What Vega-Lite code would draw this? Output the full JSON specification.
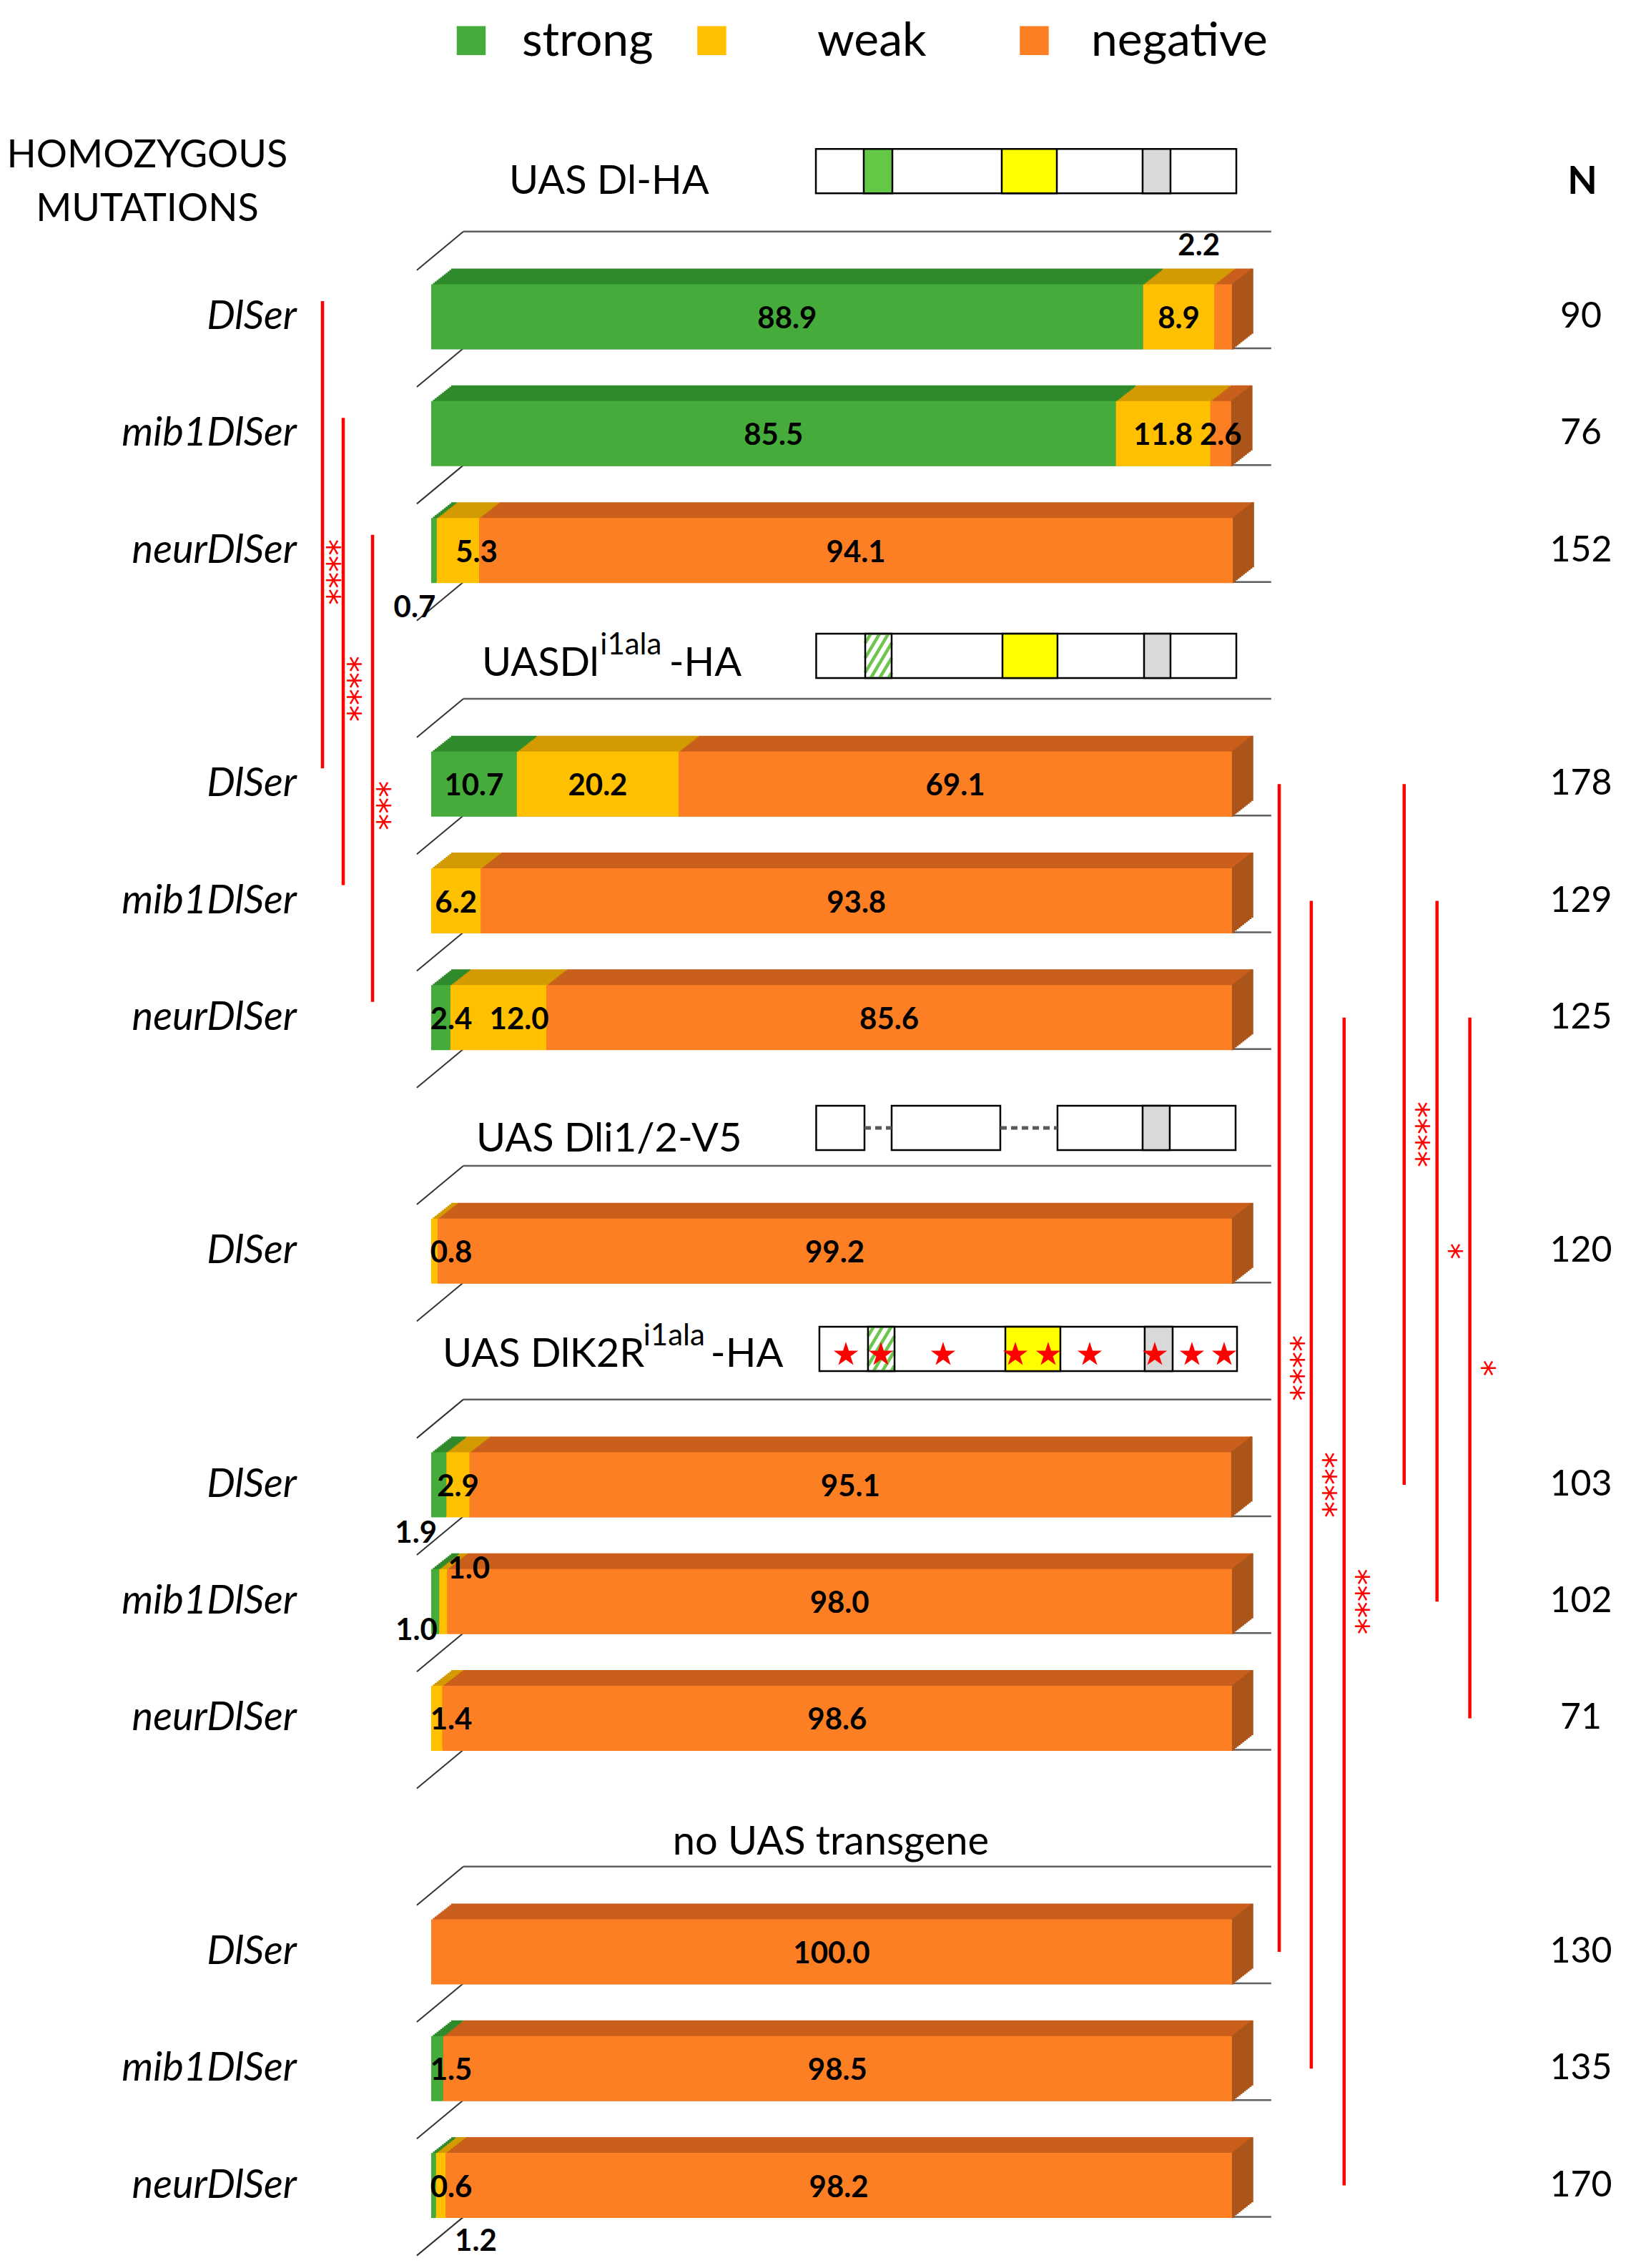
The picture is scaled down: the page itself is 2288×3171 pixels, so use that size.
{
"$schema":"https://vega.github.io/schema/vega-lite/v6.json",
"width":2288,"height":3171,"autosize":{"type":"none"},"padding":0,"background":"white",
"config":{"view":{"stroke":null},"font":"Lato"},
"datasets":{
"bars":[
{"slot":1,"cat":"strong","value":88.9},{"slot":1,"cat":"weak","value":8.9},{"slot":1,"cat":"negative","value":2.2},
{"slot":2,"cat":"strong","value":85.5},{"slot":2,"cat":"weak","value":11.8},{"slot":2,"cat":"negative","value":2.6},
{"slot":3,"cat":"strong","value":0.7},{"slot":3,"cat":"weak","value":5.3},{"slot":3,"cat":"negative","value":94.1},
{"slot":5,"cat":"strong","value":10.7},{"slot":5,"cat":"weak","value":20.2},{"slot":5,"cat":"negative","value":69.1},
{"slot":6,"cat":"strong","value":0},{"slot":6,"cat":"weak","value":6.2},{"slot":6,"cat":"negative","value":93.8},
{"slot":7,"cat":"strong","value":2.4},{"slot":7,"cat":"weak","value":12.0},{"slot":7,"cat":"negative","value":85.6},
{"slot":9,"cat":"strong","value":0},{"slot":9,"cat":"weak","value":0.8},{"slot":9,"cat":"negative","value":99.2},
{"slot":11,"cat":"strong","value":1.9},{"slot":11,"cat":"weak","value":2.9},{"slot":11,"cat":"negative","value":95.1},
{"slot":12,"cat":"strong","value":1.0},{"slot":12,"cat":"weak","value":1.0},{"slot":12,"cat":"negative","value":98.0},
{"slot":13,"cat":"strong","value":0},{"slot":13,"cat":"weak","value":1.4},{"slot":13,"cat":"negative","value":98.6},
{"slot":15,"cat":"strong","value":0},{"slot":15,"cat":"weak","value":0},{"slot":15,"cat":"negative","value":100.0},
{"slot":16,"cat":"strong","value":1.5},{"slot":16,"cat":"weak","value":0},{"slot":16,"cat":"negative","value":98.5},
{"slot":17,"cat":"strong","value":0.6},{"slot":17,"cat":"weak","value":1.2},{"slot":17,"cat":"negative","value":98.2}
],
"rows":[
{"slot":0,"label":"","N":null},{"slot":1,"label":"DlSer","N":90},{"slot":2,"label":"mib1DlSer","N":76},{"slot":3,"label":"neurDlSer","N":152},
{"slot":4,"label":"","N":null},{"slot":5,"label":"DlSer","N":178},{"slot":6,"label":"mib1DlSer","N":129},{"slot":7,"label":"neurDlSer","N":125},
{"slot":8,"label":"","N":null},{"slot":9,"label":"DlSer","N":120},{"slot":10,"label":"","N":null},
{"slot":11,"label":"DlSer","N":103},{"slot":12,"label":"mib1DlSer","N":102},{"slot":13,"label":"neurDlSer","N":71},
{"slot":14,"label":"","N":null},{"slot":15,"label":"DlSer","N":130},{"slot":16,"label":"mib1DlSer","N":135},{"slot":17,"label":"neurDlSer","N":170}
],
"sig":[
{"from":1,"to":5,"lane":-13.57,"stars":"****","side":"L"},
{"from":2,"to":6,"lane":-10.98,"stars":"****","side":"L"},
{"from":3,"to":7,"lane":-7.32,"stars":"***","side":"L"},
{"from":5,"to":15,"lane":105.9,"stars":"****","side":"R"},
{"from":6,"to":16,"lane":109.9,"stars":"****","side":"R"},
{"from":7,"to":17,"lane":114.0,"stars":"****","side":"R"},
{"from":5,"to":11,"lane":121.5,"stars":"****","side":"R"},
{"from":6,"to":12,"lane":125.6,"stars":"*","side":"R"},
{"from":7,"to":13,"lane":129.7,"stars":"*","side":"R"}
],
"dia":[
{"y":-0.2485,"a":48.04,"b":100.54,"kind":"box"},
{"y":-0.2485,"a":54.02,"b":57.59,"kind":"green"},
{"y":-0.2485,"a":71.25,"b":78.13,"kind":"yellow"},
{"y":-0.2485,"a":88.84,"b":92.32,"kind":"grey"},
{"y":3.903,"a":48.08,"b":100.54,"kind":"box"},
{"y":3.903,"a":54.2,"b":57.5,"kind":"hatch"},
{"y":3.903,"a":71.34,"b":78.21,"kind":"yellow"},
{"y":3.903,"a":89.02,"b":92.32,"kind":"grey"},
{"y":7.944,"a":48.08,"b":54.11,"kind":"box"},
{"y":7.944,"a":57.5,"b":71.07,"kind":"box"},
{"y":7.944,"a":78.21,"b":100.45,"kind":"box"},
{"y":7.944,"a":88.84,"b":92.23,"kind":"grey"},
{"y":7.944,"a":54.11,"b":57.5,"kind":"dash"},
{"y":7.944,"a":71.07,"b":78.21,"kind":"dash"},
{"y":9.837,"a":48.48,"b":100.63,"kind":"box"},
{"y":9.837,"a":54.55,"b":57.86,"kind":"hatch"},
{"y":9.837,"a":71.7,"b":78.57,"kind":"yellow"},
{"y":9.837,"a":89.1,"b":92.59,"kind":"grey"}
],
"hatch":[
{"xa":54.893,"ya":3.7137,"xb":54.2,"yb":3.7932},
{"xa":55.995,"ya":3.7137,"xb":54.2,"yb":3.9196},
{"xa":57.091,"ya":3.7137,"xb":54.2,"yb":4.0453},
{"xa":57.5,"ya":3.7932,"xb":54.893,"yb":4.0922},
{"xa":57.5,"ya":3.9196,"xb":55.995,"yb":4.0922},
{"xa":57.5,"ya":4.0453,"xb":57.091,"yb":4.0922},
{"xa":55.245,"ya":9.6477,"xb":54.55,"yb":9.7272},
{"xa":56.351,"ya":9.6477,"xb":54.55,"yb":9.8537},
{"xa":57.45,"ya":9.6477,"xb":54.55,"yb":9.9794},
{"xa":57.86,"ya":9.7272,"xb":55.245,"yb":10.0263},
{"xa":57.86,"ya":9.8537,"xb":56.351,"yb":10.0263},
{"xa":57.86,"ya":9.9794,"xb":57.45,"yb":10.0263}
],
"diastars":[{"p":51.79},{"p":56.16},{"p":63.93},{"p":72.95},{"p":77.05},{"p":82.23},{"p":90.36},{"p":95.0},{"p":99.02}]
},
"layer":[
{"data":{"name":"rows"},"mark":{"type":"rule","color":"#5f5f5f","strokeWidth":2.5,"yOffset":44},
 "encoding":{"x":{"datum":4.02,"type":"quantitative","scale":{"domain":[-53.84,150.45],"nice":false,"zero":false},"axis":null},"x2":{"datum":104.9},
 "y":{"field":"slot","type":"quantitative","scale":{"domain":[-1.683,17.676],"nice":false,"zero":false,"reverse":true},"axis":null}}},
{"data":{"name":"rows"},"mark":{"type":"rule","color":"#333333","strokeWidth":2,"yOffset":98,"y2Offset":44},
 "encoding":{"x":{"datum":-1.79,"type":"quantitative","scale":{"domain":[-53.84,150.45],"nice":false,"zero":false},"axis":null},"x2":{"datum":4.02},
 "y":{"field":"slot","type":"quantitative","scale":{"domain":[-1.683,17.676],"nice":false,"zero":false,"reverse":true},"axis":null},"y2":{"field":"slot"}}},
{"data":{"name":"sig"},
 "encoding":{"x":{"field":"lane","type":"quantitative","scale":{"domain":[-53.84,150.45],"nice":false,"zero":false},"axis":null},
  "y":{"field":"from","type":"quantitative","scale":{"domain":[-1.683,17.676],"nice":false,"zero":false,"reverse":true},"axis":null},"y2":{"field":"to"}},
 "layer":[
  {"transform":[{"filter":"datum.side=='L'"}],"mark":{"type":"rule","color":"#FF0000","strokeWidth":4.5,"yOffset":-22,"y2Offset":-22}},
  {"transform":[{"filter":"datum.side=='R'"}],"mark":{"type":"rule","color":"#FF0000","strokeWidth":4.5}}
 ]},
{"data":{"name":"sig"},"transform":[{"calculate":"(datum.from+datum.to)/2","as":"m"}],
 "encoding":{"x":{"field":"lane","type":"quantitative","scale":{"domain":[-53.84,150.45],"nice":false,"zero":false},"axis":null},
  "y":{"field":"m","type":"quantitative","scale":{"domain":[-1.683,17.676],"nice":false,"zero":false,"reverse":true},"axis":null},
  "text":{"field":"stars","type":"nominal"}},
 "layer":[
  {"transform":[{"filter":"datum.side=='L'"}],"mark":{"type":"text","font":"DejaVu Sans","fontSize":46,"angle":90,"color":"#FF0000","xOffset":6,"yOffset":30}},
  {"transform":[{"filter":"datum.side=='R'"}],"mark":{"type":"text","font":"DejaVu Sans","fontSize":46,"angle":90,"color":"#FF0000","xOffset":16}}
 ]},
{"data":{"name":"bars"},
 "transform":[
  {"calculate":"indexof(['strong','weak','negative'], datum.cat)","as":"ord"},
  {"stack":"value","groupby":["slot"],"sort":[{"field":"ord","order":"ascending"}],"as":["x0","x1"]},
  {"calculate":"(datum.x0+datum.x1)/2","as":"m0"},
  {"calculate":"max(datum.m0, 2.5)","as":"mid"}
 ],
 "layer":[
  {"encoding":{"x":{"field":"x0","type":"quantitative","scale":{"domain":[-53.84,150.45],"nice":false,"zero":false},"axis":null},"x2":{"field":"x1"},
    "y":{"field":"slot","type":"quantitative","scale":{"domain":[-1.683,17.676],"nice":false,"zero":false,"reverse":true},"axis":null},
    "fill":{"field":"cat","type":"nominal","scale":{"domain":["strong","weak","negative"],"range":["#2F8A2B","#D49A02","#CA5F1C"]},"legend":null}},
   "layer":[
    {"mark":{"type":"bar","orient":"horizontal","size":91,"opacity":1,"xOffset":28,"x2Offset":28,"yOffset":-22}},
    {"mark":{"type":"bar","orient":"horizontal","size":91,"opacity":1,"xOffset":25.45,"x2Offset":25.45,"yOffset":-20}},
    {"mark":{"type":"bar","orient":"horizontal","size":91,"opacity":1,"xOffset":22.91,"x2Offset":22.91,"yOffset":-18}},
    {"mark":{"type":"bar","orient":"horizontal","size":91,"opacity":1,"xOffset":20.36,"x2Offset":20.36,"yOffset":-16}},
    {"mark":{"type":"bar","orient":"horizontal","size":91,"opacity":1,"xOffset":17.82,"x2Offset":17.82,"yOffset":-14}},
    {"mark":{"type":"bar","orient":"horizontal","size":91,"opacity":1,"xOffset":15.27,"x2Offset":15.27,"yOffset":-12}},
    {"mark":{"type":"bar","orient":"horizontal","size":91,"opacity":1,"xOffset":12.73,"x2Offset":12.73,"yOffset":-10}},
    {"mark":{"type":"bar","orient":"horizontal","size":91,"opacity":1,"xOffset":10.18,"x2Offset":10.18,"yOffset":-8}},
    {"mark":{"type":"bar","orient":"horizontal","size":91,"opacity":1,"xOffset":7.64,"x2Offset":7.64,"yOffset":-6}},
    {"mark":{"type":"bar","orient":"horizontal","size":91,"opacity":1,"xOffset":5.09,"x2Offset":5.09,"yOffset":-4}},
    {"mark":{"type":"bar","orient":"horizontal","size":91,"opacity":1,"xOffset":2.55,"x2Offset":2.55,"yOffset":-2}}
   ]},
  {"transform":[{"filter":"datum.cat=='negative'"}],
   "encoding":{"x":{"field":"x1","type":"quantitative","scale":{"domain":[-53.84,150.45],"nice":false,"zero":false},"axis":null},
    "y":{"field":"slot","type":"quantitative","scale":{"domain":[-1.683,17.676],"nice":false,"zero":false,"reverse":true},"axis":null}},
   "layer":[
    {"mark":{"type":"tick","orient":"vertical","size":91,"thickness":3.6,"opacity":1,"color":"#AC551B","xOffset":28,"yOffset":-22}},
    {"mark":{"type":"tick","orient":"vertical","size":91,"thickness":3.6,"opacity":1,"color":"#AC551B","xOffset":25.45,"yOffset":-20}},
    {"mark":{"type":"tick","orient":"vertical","size":91,"thickness":3.6,"opacity":1,"color":"#AC551B","xOffset":22.91,"yOffset":-18}},
    {"mark":{"type":"tick","orient":"vertical","size":91,"thickness":3.6,"opacity":1,"color":"#AC551B","xOffset":20.36,"yOffset":-16}},
    {"mark":{"type":"tick","orient":"vertical","size":91,"thickness":3.6,"opacity":1,"color":"#AC551B","xOffset":17.82,"yOffset":-14}},
    {"mark":{"type":"tick","orient":"vertical","size":91,"thickness":3.6,"opacity":1,"color":"#AC551B","xOffset":15.27,"yOffset":-12}},
    {"mark":{"type":"tick","orient":"vertical","size":91,"thickness":3.6,"opacity":1,"color":"#AC551B","xOffset":12.73,"yOffset":-10}},
    {"mark":{"type":"tick","orient":"vertical","size":91,"thickness":3.6,"opacity":1,"color":"#AC551B","xOffset":10.18,"yOffset":-8}},
    {"mark":{"type":"tick","orient":"vertical","size":91,"thickness":3.6,"opacity":1,"color":"#AC551B","xOffset":7.64,"yOffset":-6}},
    {"mark":{"type":"tick","orient":"vertical","size":91,"thickness":3.6,"opacity":1,"color":"#AC551B","xOffset":5.09,"yOffset":-4}},
    {"mark":{"type":"tick","orient":"vertical","size":91,"thickness":3.6,"opacity":1,"color":"#AC551B","xOffset":2.55,"yOffset":-2}},
    {"mark":{"type":"tick","orient":"vertical","size":91,"thickness":3.6,"opacity":1,"color":"#AC551B","xOffset":0.5,"yOffset":0}}
   ]},
  {"mark":{"type":"bar","orient":"horizontal","size":91,"opacity":1},
   "encoding":{"x":{"field":"x0","type":"quantitative","scale":{"domain":[-53.84,150.45],"nice":false,"zero":false},"axis":null},"x2":{"field":"x1"},
    "y":{"field":"slot","type":"quantitative","scale":{"domain":[-1.683,17.676],"nice":false,"zero":false,"reverse":true},"axis":null},
    "color":{"field":"cat","type":"nominal","scale":{"domain":["strong","weak","negative"],"range":["#45AC3C","#FFC000","#FC7F24"]},"legend":null}}},
  {"encoding":{"y":{"field":"slot","type":"quantitative","scale":{"domain":[-1.683,17.676],"nice":false,"zero":false,"reverse":true},"axis":null},
    "text":{"field":"value","type":"quantitative","format":".1f"}},
   "layer":[
    {"transform":[{"filter":"datum.value > 0 && !((datum.slot==1 && datum.cat=='negative') || (datum.slot==3 && datum.cat!='negative') || (datum.slot==7 && datum.cat=='weak') || (datum.slot==11 && datum.cat=='strong') || (datum.slot==12 && datum.cat!='negative') || (datum.slot==17 && datum.cat=='weak'))"}],
     "mark":{"type":"text","fontWeight":"bold","fontSize":42,"color":"black","dy":3},
     "encoding":{"x":{"field":"mid","type":"quantitative","scale":{"domain":[-53.84,150.45],"nice":false,"zero":false},"axis":null}}},
    {"transform":[{"filter":"datum.slot==1 && datum.cat=='negative'"}],
     "mark":{"type":"text","fontWeight":"bold","fontSize":42,"color":"black","dx":-34,"dy":-99},
     "encoding":{"x":{"field":"m0","type":"quantitative","scale":{"domain":[-53.84,150.45],"nice":false,"zero":false},"axis":null}}},
    {"transform":[{"filter":"datum.slot==3 && datum.cat=='strong'"}],
     "mark":{"type":"text","fontWeight":"bold","fontSize":42,"color":"black","dx":-27,"dy":80},
     "encoding":{"x":{"field":"m0","type":"quantitative","scale":{"domain":[-53.84,150.45],"nice":false,"zero":false},"axis":null}}},
    {"transform":[{"filter":"datum.slot==3 && datum.cat=='weak'"}],
     "mark":{"type":"text","fontWeight":"bold","fontSize":42,"color":"black","dx":26,"dy":3},
     "encoding":{"x":{"field":"m0","type":"quantitative","scale":{"domain":[-53.84,150.45],"nice":false,"zero":false},"axis":null}}},
    {"transform":[{"filter":"datum.slot==7 && datum.cat=='weak'"}],
     "mark":{"type":"text","fontWeight":"bold","fontSize":42,"color":"black","dx":29,"dy":3},
     "encoding":{"x":{"field":"m0","type":"quantitative","scale":{"domain":[-53.84,150.45],"nice":false,"zero":false},"axis":null}}},
    {"transform":[{"filter":"datum.slot==11 && datum.cat=='strong'"}],
     "mark":{"type":"text","fontWeight":"bold","fontSize":42,"color":"black","dx":-32,"dy":68},
     "encoding":{"x":{"field":"m0","type":"quantitative","scale":{"domain":[-53.84,150.45],"nice":false,"zero":false},"axis":null}}},
    {"transform":[{"filter":"datum.slot==12 && datum.cat=='strong'"}],
     "mark":{"type":"text","fontWeight":"bold","fontSize":42,"color":"black","dx":-26,"dy":41},
     "encoding":{"x":{"field":"m0","type":"quantitative","scale":{"domain":[-53.84,150.45],"nice":false,"zero":false},"axis":null}}},
    {"transform":[{"filter":"datum.slot==12 && datum.cat=='weak'"}],
     "mark":{"type":"text","fontWeight":"bold","fontSize":42,"color":"black","dx":36,"dy":-45},
     "encoding":{"x":{"field":"m0","type":"quantitative","scale":{"domain":[-53.84,150.45],"nice":false,"zero":false},"axis":null}}},
    {"transform":[{"filter":"datum.slot==17 && datum.cat=='weak'"}],
     "mark":{"type":"text","fontWeight":"bold","fontSize":42,"color":"black","dx":49,"dy":78},
     "encoding":{"x":{"field":"m0","type":"quantitative","scale":{"domain":[-53.84,150.45],"nice":false,"zero":false},"axis":null}}}
   ]}
 ]},
{"data":{"name":"rows"},"transform":[{"filter":"datum.label != ''"}],
 "mark":{"type":"text","fontStyle":"italic","fontSize":56,"align":"right","color":"black"},
 "encoding":{"x":{"datum":-16.79,"type":"quantitative","scale":{"domain":[-53.84,150.45],"nice":false,"zero":false},"axis":null},
  "y":{"field":"slot","type":"quantitative","scale":{"domain":[-1.683,17.676],"nice":false,"zero":false,"reverse":true},"axis":null},
  "text":{"field":"label","type":"nominal"}}},
{"data":{"name":"rows"},"transform":[{"filter":"datum.label != ''"}],
 "mark":{"type":"text","fontSize":50,"align":"center","color":"black"},
 "encoding":{"x":{"datum":143.57,"type":"quantitative","scale":{"domain":[-53.84,150.45],"nice":false,"zero":false},"axis":null},
  "y":{"field":"slot","type":"quantitative","scale":{"domain":[-1.683,17.676],"nice":false,"zero":false,"reverse":true},"axis":null},
  "text":{"field":"N","type":"quantitative"}}},
{"data":{"values":[{}]},
 "encoding":{"y":{"datum":-1.366,"type":"quantitative","scale":{"domain":[-1.683,17.676],"nice":false,"zero":false,"reverse":true},"axis":null}},
 "layer":[
  {"mark":{"type":"point","shape":"square","filled":true,"size":1640,"opacity":1,"color":"#45AC3C"},"encoding":{"x":{"datum":5.0,"type":"quantitative","scale":{"domain":[-53.84,150.45],"nice":false,"zero":false},"axis":null}}},
  {"mark":{"type":"point","shape":"square","filled":true,"size":1640,"opacity":1,"color":"#FFC000"},"encoding":{"x":{"datum":35.04,"type":"quantitative","scale":{"domain":[-53.84,150.45],"nice":false,"zero":false},"axis":null}}},
  {"mark":{"type":"point","shape":"square","filled":true,"size":1640,"opacity":1,"color":"#FC7F24"},"encoding":{"x":{"datum":75.31,"type":"quantitative","scale":{"domain":[-53.84,150.45],"nice":false,"zero":false},"axis":null}}}
 ]},
{"data":{"values":[{}]},
 "encoding":{"y":{"datum":-1.2375,"type":"quantitative","scale":{"domain":[-1.683,17.676],"nice":false,"zero":false,"reverse":true},"axis":null}},
 "layer":[
  {"mark":{"type":"text","text":"strong","fontSize":66,"align":"left","baseline":"alphabetic","color":"black"},"encoding":{"x":{"datum":11.34,"type":"quantitative","scale":{"domain":[-53.84,150.45],"nice":false,"zero":false},"axis":null}}},
  {"mark":{"type":"text","text":"weak","fontSize":66,"align":"left","baseline":"alphabetic","color":"black"},"encoding":{"x":{"datum":48.21,"type":"quantitative","scale":{"domain":[-53.84,150.45],"nice":false,"zero":false},"axis":null}}},
  {"mark":{"type":"text","text":"negative","fontSize":66,"align":"left","baseline":"alphabetic","color":"black"},"encoding":{"x":{"datum":82.41,"type":"quantitative","scale":{"domain":[-53.84,150.45],"nice":false,"zero":false},"axis":null}}}
 ]},
{"data":{"values":[{}]},
 "layer":[
  {"mark":{"type":"text","text":"HOMOZYGOUS","fontSize":54,"align":"center","baseline":"alphabetic","color":"black"},
   "encoding":{"x":{"datum":-35.45,"type":"quantitative","scale":{"domain":[-53.84,150.45],"nice":false,"zero":false},"axis":null},"y":{"datum":-0.279,"type":"quantitative","scale":{"domain":[-1.683,17.676],"nice":false,"zero":false,"reverse":true},"axis":null}}},
  {"mark":{"type":"text","text":"MUTATIONS","fontSize":54,"align":"center","baseline":"alphabetic","color":"black"},
   "encoding":{"x":{"datum":-35.45,"type":"quantitative","scale":{"domain":[-53.84,150.45],"nice":false,"zero":false},"axis":null},"y":{"datum":0.179,"type":"quantitative","scale":{"domain":[-1.683,17.676],"nice":false,"zero":false,"reverse":true},"axis":null}}},
  {"mark":{"type":"text","text":"N","fontSize":54,"fontWeight":"bold","align":"center","baseline":"alphabetic","color":"black"},
   "encoding":{"x":{"datum":143.75,"type":"quantitative","scale":{"domain":[-53.84,150.45],"nice":false,"zero":false},"axis":null},"y":{"datum":-0.0531,"type":"quantitative","scale":{"domain":[-1.683,17.676],"nice":false,"zero":false,"reverse":true},"axis":null}}},
  {"mark":{"type":"text","text":"UAS Dl-HA","fontSize":56,"align":"left","baseline":"alphabetic","color":"black"},
   "encoding":{"x":{"datum":9.73,"type":"quantitative","scale":{"domain":[-53.84,150.45],"nice":false,"zero":false},"axis":null},"y":{"datum":-0.0531,"type":"quantitative","scale":{"domain":[-1.683,17.676],"nice":false,"zero":false,"reverse":true},"axis":null}}},
  {"mark":{"type":"text","text":"UASDl","fontSize":56,"align":"left","baseline":"alphabetic","color":"black"},
   "encoding":{"x":{"datum":6.34,"type":"quantitative","scale":{"domain":[-53.84,150.45],"nice":false,"zero":false},"axis":null},"y":{"datum":4.074,"type":"quantitative","scale":{"domain":[-1.683,17.676],"nice":false,"zero":false,"reverse":true},"axis":null}}},
  {"mark":{"type":"text","text":"i1ala","fontSize":42,"align":"left","baseline":"alphabetic","color":"black"},
   "encoding":{"x":{"datum":21.1,"type":"quantitative","scale":{"domain":[-53.84,150.45],"nice":false,"zero":false},"axis":null},"y":{"datum":3.891,"type":"quantitative","scale":{"domain":[-1.683,17.676],"nice":false,"zero":false,"reverse":true},"axis":null}}},
  {"mark":{"type":"text","text":"-HA","fontSize":56,"align":"left","baseline":"alphabetic","color":"black"},
   "encoding":{"x":{"datum":29.7,"type":"quantitative","scale":{"domain":[-53.84,150.45],"nice":false,"zero":false},"axis":null},"y":{"datum":4.074,"type":"quantitative","scale":{"domain":[-1.683,17.676],"nice":false,"zero":false,"reverse":true},"axis":null}}},
  {"mark":{"type":"text","text":"UAS Dli1/2-V5","fontSize":56,"align":"left","baseline":"alphabetic","color":"black"},
   "encoding":{"x":{"datum":5.63,"type":"quantitative","scale":{"domain":[-53.84,150.45],"nice":false,"zero":false},"axis":null},"y":{"datum":8.145,"type":"quantitative","scale":{"domain":[-1.683,17.676],"nice":false,"zero":false,"reverse":true},"axis":null}}},
  {"mark":{"type":"text","text":"UAS DlK2R","fontSize":56,"align":"left","baseline":"alphabetic","color":"black"},
   "encoding":{"x":{"datum":1.43,"type":"quantitative","scale":{"domain":[-53.84,150.45],"nice":false,"zero":false},"axis":null},"y":{"datum":9.99,"type":"quantitative","scale":{"domain":[-1.683,17.676],"nice":false,"zero":false,"reverse":true},"axis":null}}},
  {"mark":{"type":"text","text":"i1ala","fontSize":42,"align":"left","baseline":"alphabetic","color":"black"},
   "encoding":{"x":{"datum":26.5,"type":"quantitative","scale":{"domain":[-53.84,150.45],"nice":false,"zero":false},"axis":null},"y":{"datum":9.806,"type":"quantitative","scale":{"domain":[-1.683,17.676],"nice":false,"zero":false,"reverse":true},"axis":null}}},
  {"mark":{"type":"text","text":"-HA","fontSize":56,"align":"left","baseline":"alphabetic","color":"black"},
   "encoding":{"x":{"datum":34.9,"type":"quantitative","scale":{"domain":[-53.84,150.45],"nice":false,"zero":false},"axis":null},"y":{"datum":9.99,"type":"quantitative","scale":{"domain":[-1.683,17.676],"nice":false,"zero":false,"reverse":true},"axis":null}}},
  {"mark":{"type":"text","text":"no UAS transgene","fontSize":56,"align":"center","baseline":"alphabetic","color":"black"},
   "encoding":{"x":{"datum":49.9,"type":"quantitative","scale":{"domain":[-53.84,150.45],"nice":false,"zero":false},"axis":null},"y":{"datum":14.165,"type":"quantitative","scale":{"domain":[-1.683,17.676],"nice":false,"zero":false,"reverse":true},"axis":null}}}
 ]},
{"data":{"name":"dia"},
 "encoding":{"x":{"field":"a","type":"quantitative","scale":{"domain":[-53.84,150.45],"nice":false,"zero":false},"axis":null},"x2":{"field":"b"},
  "y":{"field":"y","type":"quantitative","scale":{"domain":[-1.683,17.676],"nice":false,"zero":false,"reverse":true},"axis":null}},
 "layer":[
  {"transform":[{"filter":"datum.kind=='box'"}],"mark":{"type":"rect","fill":"white","stroke":"black","strokeWidth":2.5,"yOffset":-31,"y2Offset":31},"encoding":{"y2":{"field":"y"}}},
  {"transform":[{"filter":"datum.kind=='green'"}],"mark":{"type":"rect","fill":"#62C845","stroke":"black","strokeWidth":2.5,"yOffset":-31,"y2Offset":31},"encoding":{"y2":{"field":"y"}}},
  {"transform":[{"filter":"datum.kind=='yellow'"}],"mark":{"type":"rect","fill":"#FFFF00","stroke":"black","strokeWidth":2.5,"yOffset":-31,"y2Offset":31},"encoding":{"y2":{"field":"y"}}},
  {"transform":[{"filter":"datum.kind=='grey'"}],"mark":{"type":"rect","fill":"#D9D9D9","stroke":"black","strokeWidth":2.5,"yOffset":-31,"y2Offset":31},"encoding":{"y2":{"field":"y"}}},
  {"transform":[{"filter":"datum.kind=='dash'"}],"mark":{"type":"rule","color":"#5A5A5A","strokeWidth":5,"strokeDash":[9,6]}}
 ]},
{"data":{"name":"hatch"},"mark":{"type":"rule","color":"#6DC64B","strokeWidth":4.5},
 "encoding":{"x":{"field":"xa","type":"quantitative","scale":{"domain":[-53.84,150.45],"nice":false,"zero":false},"axis":null},"x2":{"field":"xb"},
  "y":{"field":"ya","type":"quantitative","scale":{"domain":[-1.683,17.676],"nice":false,"zero":false,"reverse":true},"axis":null},"y2":{"field":"yb"}}},
{"data":{"name":"dia"},"transform":[{"filter":"datum.kind=='hatch'"}],
 "mark":{"type":"rect","fill":"white","fillOpacity":0,"stroke":"black","strokeWidth":2.5,"yOffset":-31,"y2Offset":31},
 "encoding":{"x":{"field":"a","type":"quantitative","scale":{"domain":[-53.84,150.45],"nice":false,"zero":false},"axis":null},"x2":{"field":"b"},
  "y":{"field":"y","type":"quantitative","scale":{"domain":[-1.683,17.676],"nice":false,"zero":false,"reverse":true},"axis":null},"y2":{"field":"y"}}},
{"data":{"name":"diastars"},"mark":{"type":"point","shape":"M0,-1L0.2245,-0.309L0.9511,-0.309L0.3633,0.118L0.5878,0.809L0,0.382L-0.5878,0.809L-0.3633,0.118L-0.9511,-0.309L-0.2245,-0.309Z","filled":true,"size":1300,"opacity":1,"color":"#FF0000","strokeWidth":0},
 "encoding":{"x":{"field":"p","type":"quantitative","scale":{"domain":[-53.84,150.45],"nice":false,"zero":false},"axis":null},
  "y":{"datum":9.886,"type":"quantitative","scale":{"domain":[-1.683,17.676],"nice":false,"zero":false,"reverse":true},"axis":null}}}
]
}
